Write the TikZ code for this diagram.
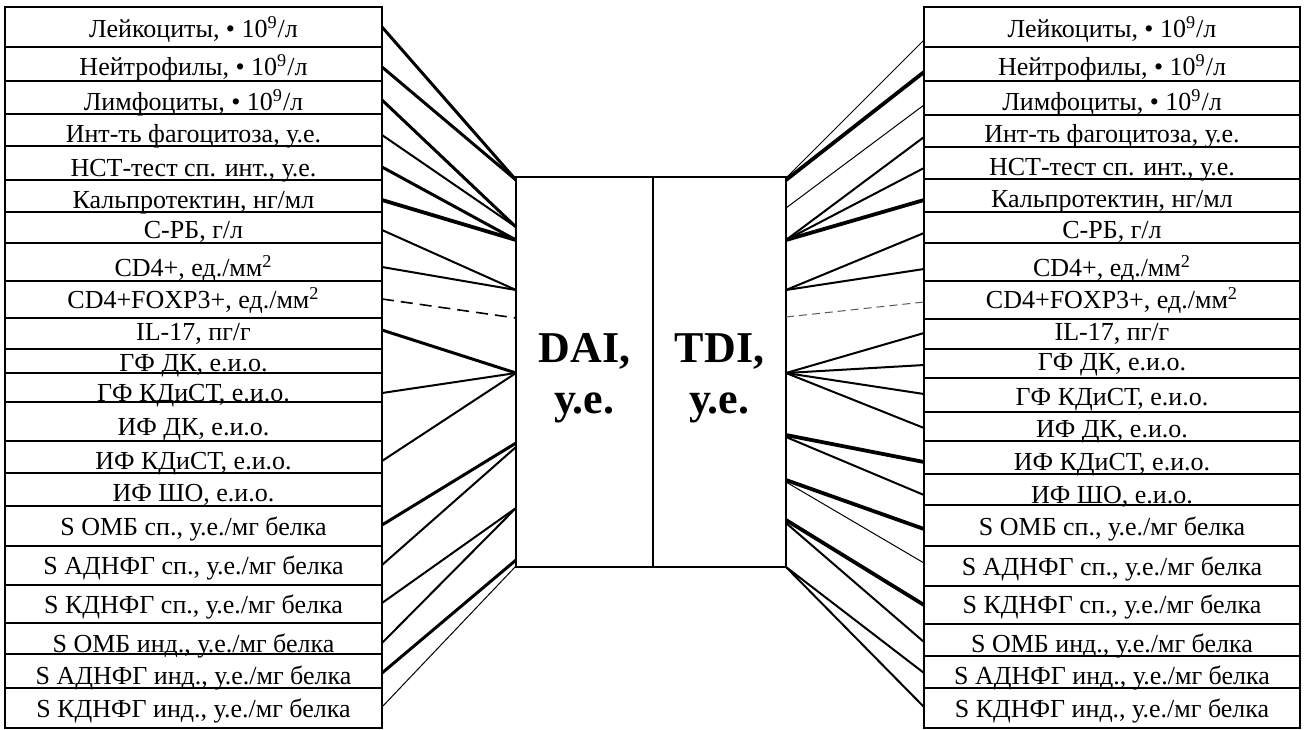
\documentclass[tikz,border=0pt]{standalone}
\usepackage{fontspec}
\setmainfont{Liberation Serif}[BoldFont={Liberation Serif Bold}]
\tikzset{
  cell/.style={draw, line width=0.9pt, inner sep=0pt, outer sep=0pt, anchor=north west},
  lbl/.style={inner sep=0pt, anchor=base, font=\fontsize{13}{15}\selectfont},
  idx/.style={inner sep=0pt, anchor=base, font=\fontsize{22}{26}\selectfont\bfseries},
  heavy/.style={line width=1.9pt},
  bold/.style={line width=1.5pt},
  mid/.style={line width=1pt},
  fine/.style={line width=0.5pt},
  dashL/.style={line width=0.8pt, dash pattern=on 6pt off 3.5pt},
  dashR/.style={line width=0.5pt, black!65, dash pattern=on 4pt off 2.5pt},
}
% one row of the left / right column: name, top, bottom, baseline, label
\newcommand\leftcell[5]{%
  \node[cell, minimum width=188.5pt, minimum height={(#3-#2)*0.5pt}] (#1) at (5,#2) {};
  \node[lbl] (#1t) at (193.5,#4) {#5};}
\newcommand\rightcell[5]{%
  \node[cell, minimum width=188pt, minimum height={(#3-#2)*0.5pt}] (#1) at (924,#2) {};
  \node[lbl] (#1t) at (1112,#4) {#5};}
\begin{document}
\begin{tikzpicture}[x=0.5pt,y=-0.5pt]
\useasboundingbox (0,0) rectangle (1305,729);

% left column
\leftcell{L1}{7}{47}{37}{Лейкоциты, • 10\textsuperscript{9}/л}
\leftcell{L2}{47}{81}{75}{Нейтрофилы, • 10\textsuperscript{9}/л}
\leftcell{L3}{81}{114}{110}{Лимфоциты, • 10\textsuperscript{9}/л}
\leftcell{L4}{114}{146}{142}{Инт-ть фагоцитоза, у.е.}
\leftcell{L5}{146}{180}{176}{НСТ-тест сп. инт., у.е.}
\leftcell{L6}{180}{212}{208}{Кальпротектин, нг/мл}
\leftcell{L7}{212}{243}{238}{С-РБ, г/л}
\leftcell{L8}{243}{281}{276}{CD4+, ед./мм\textsuperscript{2}}
\leftcell{L9}{281}{318}{308}{CD4+FOXP3+, ед./мм\textsuperscript{2}}
\leftcell{L10}{318}{349}{340}{IL-17, пг/г}
\leftcell{L11}{349}{373}{371}{ГФ ДК, е.и.о.}
\leftcell{L12}{373}{402}{401}{ГФ КДиСТ, е.и.о.}
\leftcell{L13}{402}{441}{435}{ИФ ДК, е.и.о.}
\leftcell{L14}{441}{473}{469}{ИФ КДиСТ, е.и.о.}
\leftcell{L15}{473}{506}{501}{ИФ ШО, е.и.о.}
\leftcell{L16}{506}{546}{535}{S ОМБ сп., у.е./мг белка}
\leftcell{L17}{546}{585}{574}{S АДНФГ сп., у.е./мг белка}
\leftcell{L18}{585}{623}{613}{S КДНФГ сп., у.е./мг белка}
\leftcell{L19}{623}{654}{652}{S ОМБ инд., у.е./мг белка}
\leftcell{L20}{654}{688}{684}{S АДНФГ инд., у.е./мг белка}
\leftcell{L21}{688}{728}{717}{S КДНФГ инд., у.е./мг белка}

% right column
\rightcell{R1}{7}{47}{37}{Лейкоциты, • 10\textsuperscript{9}/л}
\rightcell{R2}{47}{81}{75}{Нейтрофилы, • 10\textsuperscript{9}/л}
\rightcell{R3}{81}{115}{110}{Лимфоциты, • 10\textsuperscript{9}/л}
\rightcell{R4}{115}{147}{142}{Инт-ть фагоцитоза, у.е.}
\rightcell{R5}{147}{179}{175}{НСТ-тест сп. инт., у.е.}
\rightcell{R6}{179}{212}{207}{Кальпротектин, нг/мл}
\rightcell{R7}{212}{243}{238}{С-РБ, г/л}
\rightcell{R8}{243}{281}{276}{CD4+, ед./мм\textsuperscript{2}}
\rightcell{R9}{281}{319}{308}{CD4+FOXP3+, ед./мм\textsuperscript{2}}
\rightcell{R10}{319}{349}{340}{IL-17, пг/г}
\rightcell{R11}{349}{378}{370}{ГФ ДК, е.и.о.}
\rightcell{R12}{378}{412}{405}{ГФ КДиСТ, е.и.о.}
\rightcell{R13}{412}{441}{437}{ИФ ДК, е.и.о.}
\rightcell{R14}{441}{474}{470}{ИФ КДиСТ, е.и.о.}
\rightcell{R15}{474}{505}{503}{ИФ ШО, е.и.о.}
\rightcell{R16}{505}{546}{535}{S ОМБ сп., у.е./мг белка}
\rightcell{R17}{546}{586}{575}{S АДНФГ сп., у.е./мг белка}
\rightcell{R18}{586}{624}{613}{S КДНФГ сп., у.е./мг белка}
\rightcell{R19}{624}{656}{652}{S ОМБ инд., у.е./мг белка}
\rightcell{R20}{656}{688}{684}{S АДНФГ инд., у.е./мг белка}
\rightcell{R21}{688}{728}{717}{S КДНФГ инд., у.е./мг белка}

% central indices
\node[cell, minimum width=68.5pt, minimum height=195pt] (dai) at (516,177) {};
\node[cell, minimum width=66.5pt, minimum height=195pt] (tdi) at (653,177) {};
\node[idx] (dai1) at (584.5,362) {DAI,};
\node[idx] (dai2) at (584.5,413) {у.е.};
\node[idx] (tdi1) at (719.5,362) {TDI,};
\node[idx] (tdi2) at (719.5,413) {у.е.};

% links to DAI
\draw[bold]  (L1.east |- 0,27)  -- (dai.west |- 0,180);
\draw[bold]  (L2.east |- 0,67)  -- (dai.west |- 0,180);
\draw[bold]  (L3.east |- 0,100) -- (dai.west |- 0,227);
\draw[mid]   (L4.east |- 0,135) -- (dai.west |- 0,227);
\draw[bold]  (L5.east |- 0,167) -- (dai.west |- 0,240);
\draw[heavy] (L6.east |- 0,200) -- (dai.west |- 0,240);
\draw[mid]   (L7.east |- 0,230) -- (dai.west |- 0,290);
\draw[mid]   (L8.east |- 0,267) -- (dai.west |- 0,290);
\draw[dashL] (L9.east |- 0,299) -- (dai.west |- 0,318);
\draw[bold]  (L10.east |- 0,330) -- (dai.west |- 0,373);
\draw[mid]   (L12.east |- 0,393) -- (dai.west |- 0,373);
\draw[mid]   (L14.east |- 0,461) -- (dai.west |- 0,373);
\draw[bold]  (L16.east |- 0,525) -- (dai.west |- 0,443);
\draw[mid]   (L17.east |- 0,565) -- (dai.west |- 0,447);
\draw[mid]   (L18.east |- 0,603) -- (dai.west |- 0,508);
\draw[mid]   (L19.east |- 0,643) -- (dai.west |- 0,508);
\draw[bold]  (L20.east |- 0,673) -- (dai.west |- 0,560);
\draw[fine]  (L21.east |- 0,707) -- (dai.west |- 0,566);

% links to TDI
\draw[fine]  (tdi.east |- 0,178) -- (R1.west |- 0,40);
\draw[heavy] (tdi.east |- 0,180) -- (R2.west |- 0,72);
\draw[fine]  (tdi.east |- 0,208) -- (R3.west |- 0,105);
\draw[mid]   (tdi.east |- 0,240) -- (R4.west |- 0,137);
\draw[mid]   (tdi.east |- 0,240) -- (R5.west |- 0,168);
\draw[heavy] (tdi.east |- 0,240) -- (R6.west |- 0,200);
\draw[mid]   (tdi.east |- 0,290) -- (R7.west |- 0,233);
\draw[mid]   (tdi.east |- 0,290) -- (R8.west |- 0,269);
\draw[dashR] (tdi.east |- 0,317) -- (R9.west |- 0,302);
\draw[mid]   (tdi.east |- 0,373) -- (R10.west |- 0,333);
\draw[mid]   (tdi.east |- 0,373) -- (R11.west |- 0,365);
\draw[mid]   (tdi.east |- 0,373) -- (R12.west |- 0,394);
\draw[mid]   (tdi.east |- 0,373) -- (R13.west |- 0,428);
\draw[heavy] (tdi.east |- 0,435) -- (R14.west |- 0,462);
\draw[mid]   (tdi.east |- 0,437) -- (R15.west |- 0,495);
\draw[heavy] (tdi.east |- 0,480) -- (R16.west |- 0,529);
\draw[fine]  (tdi.east |- 0,482) -- (R17.west |- 0,563);
\draw[heavy] (tdi.east |- 0,520) -- (R18.west |- 0,605);
\draw[mid]   (tdi.east |- 0,523) -- (R19.west |- 0,642);
\draw[mid]   (tdi.east |- 0,567) -- (R20.west |- 0,673);
\draw[mid]   (tdi.east |- 0,567) -- (R21.west |- 0,707);
\end{tikzpicture}
\end{document}
